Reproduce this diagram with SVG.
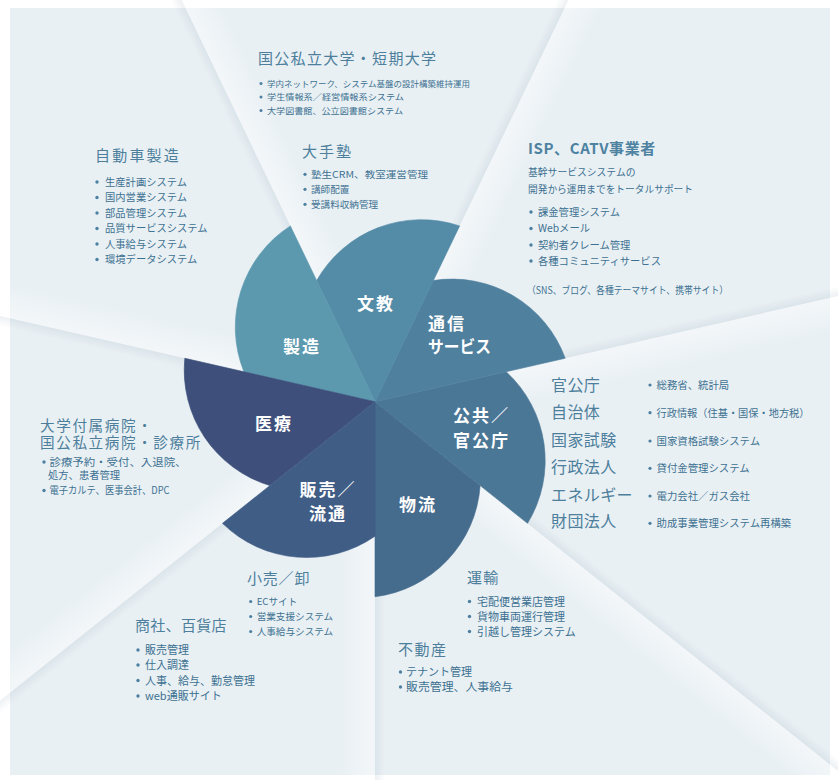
<svg xmlns="http://www.w3.org/2000/svg" width="838" height="780" viewBox="0 0 838 780">
<defs>
<style>
text{font-family:"Noto Sans CJK JP","Noto Sans",sans-serif}
.h{font-size:15px;fill:#4d7f9c;letter-spacing:1.2px}
.i{fill:#3d7091}
.b{fill:#4d80a0}
.c{font-size:17px;font-weight:bold;fill:#ffffff;letter-spacing:2px}
.ray{fill:url(#rayW)}
.sh{fill:url(#rayS)}
</style>
<linearGradient id="rayW" gradientUnits="userSpaceOnUse" x1="0" y1="0" x2="0" y2="34">
<stop offset="0" stop-color="#ffffff" stop-opacity="0.45"/>
<stop offset="1" stop-color="#ffffff" stop-opacity="0"/>
</linearGradient>
<linearGradient id="rayS" gradientUnits="userSpaceOnUse" x1="0" y1="-10" x2="0" y2="0">
<stop offset="0" stop-color="#8ea6b6" stop-opacity="0"/>
<stop offset="1" stop-color="#8ea6b6" stop-opacity="0.16"/>
</linearGradient>
</defs>
<rect x="0" y="0" width="838" height="780" fill="#ffffff"/>
<rect x="10" y="8" width="820" height="767" fill="#e9f0f4"/>
<g id="rays">
<g transform="translate(375,401.7) rotate(90)"><rect class="ray" x="130" y="0" width="600" height="34"/><rect class="sh" x="130" y="-10" width="600" height="10"/></g>
<g transform="translate(375,401.7) rotate(38.57)"><rect class="ray" x="130" y="0" width="600" height="34"/><rect class="sh" x="130" y="-10" width="600" height="10"/></g>
<g transform="translate(375,401.7) rotate(-12.86)"><rect class="ray" x="130" y="0" width="600" height="34"/><rect class="sh" x="130" y="-10" width="600" height="10"/></g>
<g transform="translate(375,401.7) rotate(-64.29)"><rect class="ray" x="130" y="0" width="600" height="34"/><rect class="sh" x="130" y="-10" width="600" height="10"/></g>
<g transform="translate(375,401.7) rotate(-115.71)"><rect class="ray" x="130" y="0" width="600" height="34"/><rect class="sh" x="130" y="-10" width="600" height="10"/></g>
<g transform="translate(375,401.7) rotate(-167.14)"><rect class="ray" x="130" y="0" width="600" height="34"/><rect class="sh" x="130" y="-10" width="600" height="10"/></g>
<g transform="translate(375,401.7) rotate(141.43)"><rect class="ray" x="130" y="0" width="600" height="34"/><rect class="sh" x="130" y="-10" width="600" height="10"/></g>
</g>
<g id="petals" stroke-width="0.6">
<g id="p-butsuryu"><path d="M375,401.7 L375,596.8 A120.5,120.5 0 0 0 480.15,485.56 Z" fill="#456b8d" stroke="#456b8d"/><text class="c" x="418" y="511" text-anchor="middle">物流</text></g>
<g id="p-kokyo"><path d="M375,401.7 L527.53,523.35 A120.5,120.5 0 0 0 506.13,371.76 Z" fill="#4b7796" stroke="#4b7796"/><text class="c" x="453" y="421.5">公共／</text><text class="c" x="453" y="446.5">官公庁</text></g>
<g id="p-tsushin"><path d="M375,401.7 L565.2,358.27 A120.5,120.5 0 0 0 433.36,280.52 Z" fill="#4f809e" stroke="#4f809e"/><text class="c" x="428" y="330">通信</text><text class="c" x="428" y="353" textLength="63" lengthAdjust="spacingAndGlyphs" style="letter-spacing:0">サービス</text></g>
<g id="p-bunkyo"><path d="M375,401.7 L459.65,225.92 A120.5,120.5 0 0 0 316.64,280.52 Z" fill="#548ca7" stroke="#548ca7"/><text class="c" x="376" y="309.5" text-anchor="middle">文教</text></g>
<g id="p-seizo"><path d="M375,401.7 L290.35,225.92 A120.5,120.5 0 0 0 243.87,371.76 Z" fill="#5c99af" stroke="#5c99af"/><text class="c" x="302" y="353" text-anchor="middle">製造</text></g>
<g id="p-iryo"><path d="M375,401.7 L184.8,358.27 A120.5,120.5 0 0 0 269.85,485.56 Z" fill="#3d4f7a" stroke="#3d4f7a"/><text class="c" x="274" y="430" text-anchor="middle">医療</text></g>
<g id="p-hanbai"><path d="M375,401.7 L222.47,523.35 A120.5,120.5 0 0 0 375,536.2 Z" fill="#405d86" stroke="#405d86"/><text class="c" x="328" y="495.5" text-anchor="middle">販売／</text><text class="c" x="328" y="519.5" text-anchor="middle">流通</text></g>
</g>
<g id="n-daigaku">
<text class="h" x="258" y="64" style="letter-spacing:1.3px">国公私立大学・短期大学</text>
<g class="b"><circle cx="261" cy="83.5" r="1.5"/><circle cx="261" cy="97" r="1.5"/><circle cx="261" cy="110.5" r="1.5"/></g>
<g class="i" font-size="8.5">
<text x="267" y="86.5" textLength="203" lengthAdjust="spacingAndGlyphs">学内ネットワーク、システム基盤の設計構築維持運用</text>
<text x="267" y="100" textLength="137" lengthAdjust="spacingAndGlyphs">学生情報系／経営情報系システム</text>
<text x="267" y="113.5" textLength="136" lengthAdjust="spacingAndGlyphs">大学図書館、公立図書館システム</text>
</g>
</g>
<g id="n-juku">
<text class="h" x="302" y="157" style="letter-spacing:2px">大手塾</text>
<g class="b"><circle cx="305" cy="174.3" r="1.6"/><circle cx="305" cy="189.3" r="1.6"/><circle cx="305" cy="204.3" r="1.6"/></g>
<g class="i" font-size="9.6">
<text x="311" y="177.7" textLength="117" lengthAdjust="spacingAndGlyphs">塾生CRM、教室運営管理</text>
<text x="311" y="192.7">講師配置</text>
<text x="311" y="207.7">受講料収納管理</text>
</g>
</g>
<g id="n-jidosha">
<text class="h" x="95" y="160.5" style="letter-spacing:2.2px">自動車製造</text>
<g class="b"><circle cx="97" cy="182" r="1.7"/><circle cx="97" cy="197.5" r="1.7"/><circle cx="97" cy="213" r="1.7"/><circle cx="97" cy="228.5" r="1.7"/><circle cx="97" cy="244" r="1.7"/><circle cx="97" cy="259.5" r="1.7"/></g>
<g class="i" font-size="10.3">
<text x="105" y="185.5">生産計画システム</text>
<text x="105" y="201">国内営業システム</text>
<text x="105" y="216.5">部品管理システム</text>
<text x="105" y="232">品質サービスシステム</text>
<text x="105" y="247.5">人事給与システム</text>
<text x="105" y="263">環境データシステム</text>
</g>
</g>
<g id="n-isp">
<text x="528" y="154" font-size="15" font-weight="bold" fill="#4e82a1" letter-spacing="0.6">ISP、CATV事業者</text>
<g class="i" font-size="9.8">
<text x="528" y="175.5">基幹サービスシステムの</text>
<text x="528" y="193" textLength="165" lengthAdjust="spacingAndGlyphs">開発から運用までをトータルサポート</text>
</g>
<g class="b"><circle cx="531" cy="212" r="1.7"/><circle cx="531" cy="228.5" r="1.7"/><circle cx="531" cy="245" r="1.7"/><circle cx="531" cy="261" r="1.7"/></g>
<g class="i" font-size="10.3">
<text x="538" y="215.5">課金管理システム</text>
<text x="538" y="232">Webメール</text>
<text x="538" y="248.5">契約者クレーム管理</text>
<text x="538" y="264.5">各種コミュニティサービス</text>
<text x="527" y="294" font-size="10" textLength="201" lengthAdjust="spacingAndGlyphs">（SNS、ブログ、各種テーマサイト、携帯サイト）</text>
</g>
</g>
<g id="n-iryo">
<text class="h" x="40" y="430.5" style="font-size:14.6px;letter-spacing:1.6px">大学付属病院・</text>
<text class="h" x="40" y="447.5" style="font-size:14.6px;letter-spacing:1.6px">国公私立病院・診療所</text>
<g class="b"><circle cx="44" cy="462" r="1.7"/><circle cx="44" cy="490.5" r="1.7"/></g>
<g class="i" font-size="10.3">
<text x="49.5" y="465.5" textLength="137" lengthAdjust="spacingAndGlyphs">診療予約・受付、入退院、</text>
<text x="48" y="478.5">処方、患者管理</text>
<text x="49.5" y="494" textLength="120" lengthAdjust="spacingAndGlyphs">電子カルテ、医事会計、DPC</text>
</g>
</g>
<g id="n-kokyo">
<g font-size="16" fill="#4d7f9c" letter-spacing="0.4">
<text x="551" y="390.5">官公庁</text>
<text x="551" y="418">自治体</text>
<text x="551" y="445.5">国家試験</text>
<text x="551" y="473">行政法人</text>
<text x="551" y="500.5">エネルギー</text>
<text x="551" y="527">財団法人</text>
</g>
<g class="b"><circle cx="650" cy="385" r="1.6"/><circle cx="650" cy="412.7" r="1.6"/><circle cx="650" cy="441" r="1.6"/><circle cx="650" cy="468.3" r="1.6"/><circle cx="650" cy="496" r="1.6"/><circle cx="650" cy="523.3" r="1.6"/></g>
<g class="i" font-size="10.4">
<text x="656.5" y="388.8">総務省、統計局</text>
<text x="656.5" y="416.5" textLength="153" lengthAdjust="spacingAndGlyphs">行政情報（住基・国保・地方税）</text>
<text x="656.5" y="444.8">国家資格試験システム</text>
<text x="656.5" y="472.1">貸付金管理システム</text>
<text x="656.5" y="499.8">電力会社／ガス会社</text>
<text x="656.5" y="527.1">助成事業管理システム再構築</text>
</g>
</g>
<g id="n-kouri">
<text class="h" x="247" y="584" style="letter-spacing:0.8px">小売／卸</text>
<g class="b"><circle cx="250.7" cy="601.5" r="1.6"/><circle cx="250.7" cy="616.5" r="1.6"/><circle cx="250.7" cy="631.5" r="1.6"/></g>
<g class="i" font-size="9.6">
<text x="256.7" y="605">ECサイト</text>
<text x="256.7" y="620">営業支援システム</text>
<text x="256.7" y="635">人事給与システム</text>
</g>
</g>
<g id="n-shosha">
<text class="h" x="135" y="631" style="letter-spacing:0.3px">商社、百貨店</text>
<g class="b"><circle cx="138" cy="650" r="1.7"/><circle cx="138" cy="665" r="1.7"/><circle cx="138" cy="680.5" r="1.7"/><circle cx="138" cy="696" r="1.7"/></g>
<g class="i" font-size="11">
<text x="145" y="654">販売管理</text>
<text x="145" y="669">仕入調達</text>
<text x="145" y="684.5" textLength="110" lengthAdjust="spacingAndGlyphs">人事、給与、勤怠管理</text>
<text x="145" y="700">web通販サイト</text>
</g>
</g>
<g id="n-unyu">
<text class="h" x="467" y="582.5">運輸</text>
<g class="b"><circle cx="469.5" cy="601.5" r="1.7"/><circle cx="469.5" cy="616.5" r="1.7"/><circle cx="469.5" cy="631.5" r="1.7"/></g>
<g class="i" font-size="11">
<text x="477" y="605.5">宅配便営業店管理</text>
<text x="477" y="620.5">貨物車両運行管理</text>
<text x="477" y="635.5">引越し管理システム</text>
</g>
</g>
<g id="n-fudosan">
<text class="h" x="398" y="655" style="letter-spacing:1.5px">不動産</text>
<g class="b"><circle cx="400.5" cy="672" r="1.7"/><circle cx="400.5" cy="687" r="1.7"/></g>
<g class="i" font-size="11">
<text x="406" y="676">テナント管理</text>
<text x="406" y="691" textLength="107" lengthAdjust="spacingAndGlyphs">販売管理、人事給与</text>
</g>
</g>
</svg>
